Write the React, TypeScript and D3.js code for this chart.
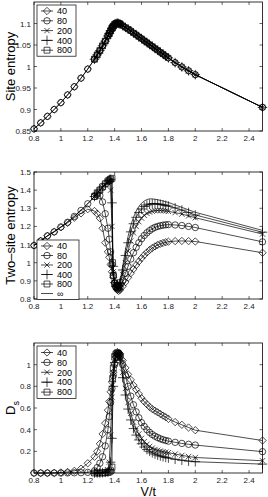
import React from "react";
import * as d3 from "d3";

// V/t grids
const vFull = [0.8, 0.85, 0.9, 0.95, 1, 1.05, 1.1, 1.15, 1.2, 1.25,
  1.27, 1.29, 1.31, 1.33, 1.35, 1.36, 1.37, 1.38, 1.39, 1.4, 1.41, 1.42, 1.43, 1.44,
  1.46, 1.48, 1.5, 1.52, 1.54, 1.56, 1.58, 1.6, 1.62, 1.64, 1.66, 1.68, 1.7, 1.72, 1.74, 1.76, 1.78, 1.8,
  1.85, 1.9, 1.95, 2, 2.5];
const vUpper = vFull.slice(9);
const v800 = [1.25, 1.27, 1.29, 1.31, 1.33, 1.35, 1.36, 1.37, 1.38, 1.385, 1.39, 1.4, 1.41, 1.42, 1.43, 1.44];
const vInf = [0.8, 0.9, 1, 1.1, 1.2, 1.25, 1.3, 1.35, 1.38, 1.385, 1.39, 1.4, 1.42, 1.44, 1.46, 1.48, 1.5,
  1.52, 1.54, 1.56, 1.58, 1.6, 1.62, 1.64, 1.66, 1.68, 1.7, 1.75, 1.8, 1.9, 2, 2.5];

// site entropy (same for every m)
const siteS = [0.855, 0.869, 0.884, 0.9, 0.916, 0.934, 0.953, 0.973, 0.994, 1.017,
  1.027, 1.037, 1.048, 1.059, 1.071, 1.077, 1.083, 1.089, 1.094, 1.098, 1.1, 1.101, 1.1, 1.099,
  1.095, 1.091, 1.087, 1.083, 1.078, 1.074, 1.069, 1.065, 1.06, 1.056, 1.051, 1.047, 1.042, 1.038, 1.033, 1.029, 1.024, 1.02,
  1.009, 0.999, 0.99, 0.981, 0.905];
const site800 = [1.017, 1.027, 1.037, 1.048, 1.059, 1.071, 1.077, 1.083, 1.089, 1.091, 1.094, 1.098, 1.1, 1.101, 1.1, 1.099];

// two-site entropy
const two40 = [1.095, 1.12, 1.148, 1.17, 1.195, 1.22, 1.248, 1.272, 1.295, 1.285,
  1.27, 1.245, 1.19, 1.11, 1.06, 1.03, 0.99, 0.95, 0.92, 0.89, 0.865, 0.85, 0.845, 0.85,
  0.87, 0.893, 0.918, 0.942, 0.965, 0.987, 1.007, 1.025, 1.042, 1.057, 1.07, 1.081, 1.09, 1.098, 1.104, 1.109, 1.113, 1.116,
  1.119, 1.12, 1.119, 1.117, 1.055];
const two80 = [1.095, 1.12, 1.148, 1.17, 1.197, 1.223, 1.255, 1.288, 1.325, 1.365,
  1.375, 1.37, 1.335, 1.27, 1.19, 1.13, 1.06, 0.99, 0.93, 0.89, 0.865, 0.855, 0.855, 0.865,
  0.9, 0.94, 0.98, 1.02, 1.055, 1.085, 1.11, 1.132, 1.15, 1.165, 1.177, 1.187, 1.195, 1.2, 1.204, 1.207, 1.209, 1.21,
  1.208, 1.205, 1.2, 1.194, 1.115];
const two200 = [1.365,
  1.385, 1.4, 1.415, 1.43, 1.44, 1.45, 1.4, 1.2, 0.95, 0.885, 0.865, 0.86, 0.865, 0.88,
  0.935, 1.0, 1.065, 1.12, 1.165, 1.2, 1.226, 1.246, 1.261, 1.272, 1.279, 1.284, 1.287, 1.288, 1.288, 1.287, 1.285, 1.283,
  1.276, 1.268, 1.258, 1.248, 1.158];
const two400 = [1.365,
  1.385, 1.4, 1.418, 1.435, 1.45, 1.455, 1.46, 1.33, 0.98, 0.89, 0.87, 0.865, 0.87, 0.89,
  0.96, 1.04, 1.11, 1.17, 1.215, 1.25, 1.277, 1.296, 1.31, 1.318, 1.323, 1.325, 1.325, 1.324, 1.322, 1.319, 1.316, 1.312,
  1.302, 1.29, 1.277, 1.263, 1.168];
const two800 = [1.365, 1.385, 1.4, 1.418, 1.435, 1.45, 1.455, 1.46, 1.465, 1.0, 0.93, 0.885, 0.87, 0.865, 0.87, 0.89];
const twoInf = [1.095, 1.148, 1.197, 1.255, 1.325, 1.365, 1.41, 1.45, 1.465, 1.0, 0.93, 0.885, 0.865, 0.9, 0.98, 1.07, 1.145,
  1.205, 1.25, 1.285, 1.31, 1.328, 1.34, 1.348, 1.352, 1.352, 1.35, 1.342, 1.332, 1.305, 1.278, 1.178];

// D_s
const ds40 = [0, 0, 0, 0.002, 0.005, 0.01, 0.02, 0.04, 0.09, 0.15,
  0.2, 0.27, 0.36, 0.46, 0.58, 0.66, 0.75, 0.84, 0.93, 1.01, 1.07, 1.1, 1.11, 1.1,
  1.04, 0.97, 0.91, 0.86, 0.81, 0.77, 0.73, 0.69, 0.66, 0.635, 0.61, 0.59, 0.575, 0.56, 0.545, 0.53, 0.515, 0.5,
  0.47, 0.445, 0.42, 0.395, 0.3];
const ds80 = [0, 0, 0, 0, 0, 0.001, 0.002, 0.003, 0.006, 0.02,
  0.05, 0.09, 0.15, 0.25, 0.4, 0.52, 0.65, 0.78, 0.9, 1.0, 1.07, 1.1, 1.1, 1.08,
  1.0, 0.9, 0.8, 0.71, 0.63, 0.565, 0.51, 0.465, 0.43, 0.4, 0.375, 0.355, 0.34, 0.327, 0.316, 0.307, 0.3, 0.294,
  0.283, 0.273, 0.265, 0.258, 0.197];
const ds200 = [0,
  0.002, 0.004, 0.007, 0.012, 0.03, 0.1, 0.35, 0.7, 0.92, 1.05, 1.1, 1.11, 1.1, 1.06,
  0.93, 0.78, 0.65, 0.55, 0.47, 0.41, 0.36, 0.32, 0.29, 0.265, 0.245, 0.23, 0.218, 0.21, 0.203, 0.197, 0.192, 0.188,
  0.175, 0.163, 0.152, 0.143, 0.113];
const ds400 = [0,
  0, 0.001, 0.003, 0.006, 0.01, 0.03, 0.1, 0.32, 0.8, 1.02, 1.1, 1.11, 1.09, 1.04,
  0.88, 0.72, 0.59, 0.49, 0.41, 0.35, 0.305, 0.27, 0.24, 0.217, 0.2, 0.186, 0.175, 0.165, 0.157, 0.15, 0.144, 0.138,
  0.127, 0.118, 0.11, 0.104, 0.082];
const ds800 = [0, 0, 0, 0.001, 0.002, 0.005, 0.01, 0.02, 0.055, 0.87, 0.97, 1.07, 1.1, 1.11, 1.1, 1.08];

const mLabels = ["40", "80", "200", "400", "800", "\u221e"];
const xTicks = [0.8, 1, 1.2, 1.4, 1.6, 1.8, 2, 2.2, 2.4];

const FONT = "'Liberation Sans', Arial, sans-serif";
const LEFT = 34;
const RIGHT = 262.5;

// marker per m (null = plain line)
const markers: any[] = [
  { type: d3.symbolDiamond2, size: 34 },
  { type: d3.symbolCircle, size: 32 },
  { type: d3.symbolTimes, size: 20 },
  { type: d3.symbolPlus, size: 32 },
  { type: d3.symbolSquare2, size: 44 },
  null,
];

const zip = (xs: number[], ys: number[]) => xs.map((v, i) => [v, ys[i]] as [number, number]);

const panels = [
  {
    top: 2, bottom: 131, yDomain: [0.85, 1.15],
    yTicks: [0.85, 0.9, 0.95, 1, 1.05, 1.1],
    label: "Site entropy",
    legend: { x: 37, y: 5, w: 39, first: 11, step: 9.8, n: 5 },
    series: [zip(vFull, siteS), zip(vFull, siteS), zip(vUpper, siteS.slice(9)), zip(vUpper, siteS.slice(9)), zip(v800, site800)],
  },
  {
    top: 172, bottom: 299, yDomain: [0.8, 1.5],
    yTicks: [0.8, 0.9, 1, 1.1, 1.2, 1.3, 1.4, 1.5],
    label: "Two\u2013site entropy",
    legend: { x: 37, y: 240, w: 42, first: 246, step: 9.5, n: 6 },
    series: [zip(vFull, two40), zip(vFull, two80), zip(vUpper, two200), zip(vUpper, two400), zip(v800, two800), zip(vInf, twoInf)],
  },
  {
    top: 343, bottom: 473, yDomain: [0, 1.2],
    yTicks: [0.2, 0.4, 0.6, 0.8, 1],
    label: "D",
    legend: { x: 37, y: 346, w: 39, first: 352.5, step: 9.9, n: 5 },
    series: [zip(vFull, ds40), zip(vFull, ds80), zip(vUpper, ds200), zip(vUpper, ds400), zip(v800, ds800)],
  },
];

function Marker({ k, x, y }: { k: number; x: number; y: number }) {
  const m = markers[k];
  if (!m) return null;
  const d = d3.symbol().type(m.type).size(m.size)() as string;
  return <path d={d} transform={`translate(${x},${y})`} fill="none" stroke="#000" strokeWidth={0.7} />;
}

function Panel({ p }: { p: any }) {
  const x = d3.scaleLinear().domain([0.8, 2.5]).range([LEFT, RIGHT]);
  const y = d3.scaleLinear().domain(p.yDomain).range([p.bottom, p.top]);
  const line = d3.line<[number, number]>().x(d => x(d[0])).y(d => y(d[1]));
  const tl = 3;
  const midY = (p.top + p.bottom) / 2;
  const lg = p.legend;
  const lgH = lg.first - lg.y + lg.step * (lg.n - 1) + (lg.first - lg.y);
  return (
    <g>
      {/* data */}
      {p.series.map((s: [number, number][], k: number) => (
        <g key={k}>
          <path d={line(s) as string} fill="none" stroke="#000" strokeWidth={0.7} />
          {s.map((d, i) => <Marker key={i} k={k} x={x(d[0])} y={y(d[1])} />)}
        </g>
      ))}
      {/* box */}
      <rect x={LEFT} y={p.top} width={RIGHT - LEFT} height={p.bottom - p.top} fill="none" stroke="#000" strokeWidth={0.8} />
      {xTicks.map(t => (
        <g key={t}>
          <line x1={x(t)} x2={x(t)} y1={p.bottom} y2={p.bottom - tl} stroke="#000" strokeWidth={0.6} />
          <line x1={x(t)} x2={x(t)} y1={p.top} y2={p.top + tl} stroke="#000" strokeWidth={0.6} />
          <text x={x(t)} y={p.bottom + 9.5} fontSize={8} fontFamily={FONT} textAnchor="middle" fill="#222">{d3.format("~g")(t)}</text>
        </g>
      ))}
      {p.yTicks.map((t: number) => (
        <g key={t}>
          <line x1={LEFT} x2={LEFT + tl} y1={y(t)} y2={y(t)} stroke="#000" strokeWidth={0.6} />
          <line x1={RIGHT} x2={RIGHT - tl} y1={y(t)} y2={y(t)} stroke="#000" strokeWidth={0.6} />
          <text x={LEFT - 3} y={y(t) + 3} fontSize={8} fontFamily={FONT} textAnchor="end" fill="#222">{d3.format("~g")(t)}</text>
        </g>
      ))}
      {/* y label */}
      <text transform={`translate(15,${midY}) rotate(-90)`} fontSize={13} fontFamily={FONT} textAnchor="middle" fill="#000">
        {p.label}
        {p.label === "D" ? <tspan fontSize={9} dy={4}>s</tspan> : null}
      </text>
      {/* legend */}
      <rect x={lg.x} y={lg.y} width={lg.w} height={lgH} fill="#fff" stroke="#000" strokeWidth={0.7} />
      {d3.range(lg.n).map((k: number) => {
        const ly = lg.first + k * lg.step;
        return (
          <g key={k}>
            <line x1={lg.x + 4} x2={lg.x + 16} y1={ly} y2={ly} stroke="#000" strokeWidth={0.7} />
            <Marker k={k} x={lg.x + 10} y={ly} />
            <text x={lg.x + 20} y={ly + 3.2} fontSize={9} fontFamily={FONT} fill="#000">{mLabels[k]}</text>
          </g>
        );
      })}
    </g>
  );
}

export default function App() {
  return (
    <svg width={268} height={497} style={{ position: "absolute", left: 0, top: 0, background: "#fff" }}>
      {panels.map((p, i) => <Panel key={i} p={p} />)}
      <text x={(LEFT + RIGHT) / 2} y={495.5} fontSize={12.5} fontFamily={FONT} textAnchor="middle" fill="#000">V/t</text>
    </svg>
  );
}
